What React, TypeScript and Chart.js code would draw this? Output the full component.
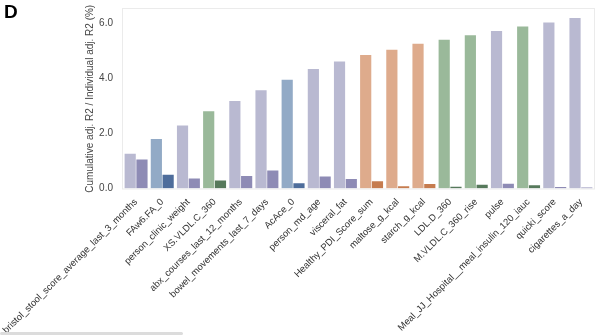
import React, { useEffect, useRef } from "react";
import { Chart, registerables } from "chart.js";

Chart.register(...registerables);

const categories = [
  "bristol_stool_score_average_last_3_months",
  "FAw6.FA_0",
  "person_clinic_weight",
  "XS.VLDL.C_360",
  "abx_courses_last_12_months",
  "bowel_movements_last_7_days",
  "AcAce_0",
  "person_md_age",
  "visceral_fat",
  "Healthy_PDI_Score_sum",
  "maltose_g_kcal",
  "starch_g_kcal",
  "LDL.D_360",
  "M.VLDL.C_360_rise",
  "pulse",
  "Meal_JJ_Hospital__meal_insulin_120_iauc",
  "quicki_score",
  "cigarettes_a_day",
];

const cumulative = [1.26, 1.79, 2.28, 2.8, 3.17, 3.56, 3.94, 4.33, 4.6, 4.83, 5.02, 5.24, 5.39, 5.55, 5.7, 5.87, 6.01, 6.17];
const individual = [1.05, 0.5, 0.36, 0.29, 0.45, 0.65, 0.19, 0.43, 0.34, 0.26, 0.08, 0.16, 0.06, 0.14, 0.17, 0.12, 0.05, 0.04];
const groups = ["p", "b", "p", "g", "p", "p", "b", "p", "p", "o", "o", "o", "g", "g", "p", "g", "p", "p"];

const yTicks = [0, 2, 4, 6];

const lightColors: Record<string, string> = { p: "#b9b9d1", b: "#92aac6", g: "#9ab99a", o: "#deab8c" };
const darkColors: Record<string, string> = { p: "#8e8bb5", b: "#4e6d9b", g: "#56795b", o: "#c67c4f" };

const frame = {
  id: "frame",
  afterDraw(chart: any) {
    const { ctx, chartArea } = chart;
    ctx.save();
    ctx.strokeStyle = "#ebebeb";
    ctx.lineWidth = 1;
    ctx.strokeRect(chartArea.left - 0.5, chartArea.top - 0.5, chartArea.right - chartArea.left + 1, chartArea.bottom - chartArea.top + 1);
    ctx.restore();
  },
};

export default function App() {
  const ref = useRef<HTMLCanvasElement>(null);
  useEffect(() => {
    const chart = new Chart(ref.current!, {
      type: "bar",
      data: {
        labels: categories,
        datasets: [
          {
            data: cumulative,
            backgroundColor: groups.map((g) => lightColors[g]),
            borderWidth: 0,
            categoryPercentage: 0.9,
            barPercentage: 0.95,
          },
          {
            data: individual,
            backgroundColor: groups.map((g) => darkColors[g]),
            borderWidth: 0,
            categoryPercentage: 0.9,
            barPercentage: 0.95,
          },
        ],
      },
      options: {
        animation: false,
        responsive: false,
        maintainAspectRatio: false,
        layout: { padding: { top: 9, right: 6, left: 84, bottom: 0 } },
        plugins: { legend: { display: false }, tooltip: { enabled: false } },
        scales: {
          x: {
            grid: { display: false },
            border: { display: false },
            ticks: {
              autoSkip: false,
              maxRotation: 45,
              minRotation: 45,
              color: "#333",
              padding: 0,
              font: { family: "Liberation Sans", size: 9.5 },
            },
          },
          y: {
            min: 0,
            max: 6.5,
            afterBuildTicks: (axis: any) => {
              axis.ticks = yTicks.map((v) => ({ value: v }));
            },
            afterFit: (axis: any) => {
              axis.width = 39;
            },
            grid: { display: false },
            border: { display: false },
            ticks: {
              color: "#444",
              padding: 2,
              callback: (v: any) => Number(v).toFixed(1),
              font: { family: "Liberation Sans", size: 10 },
            },
            title: {
              display: true,
              text: "Cumulative adj. R2 / Individual adj. R2 (%)",
              color: "#444",
              font: { family: "Liberation Sans", size: 10 },
              padding: { top: 0, bottom: 4 },
            },
          },
        },
      },
      plugins: [frame],
    });
    return () => chart.destroy();
  }, []);
  return (
    <div style={{ position: "fixed", left: 0, top: 0, width: 600, height: 336, background: "#fff" }}>
      <canvas ref={ref} width={600} height={336} style={{ position: "absolute", left: 0, top: 0 }} />
      <div style={{ position: "absolute", left: 4, top: 1, fontFamily: "Liberation Sans", fontWeight: "bold", fontSize: 19, color: "#000" }}>D</div>
      <div style={{ position: "absolute", left: 0, top: 332, width: 183, height: 3, background: "#dcdcdc", borderRadius: 2 }} />
    </div>
  );
}
